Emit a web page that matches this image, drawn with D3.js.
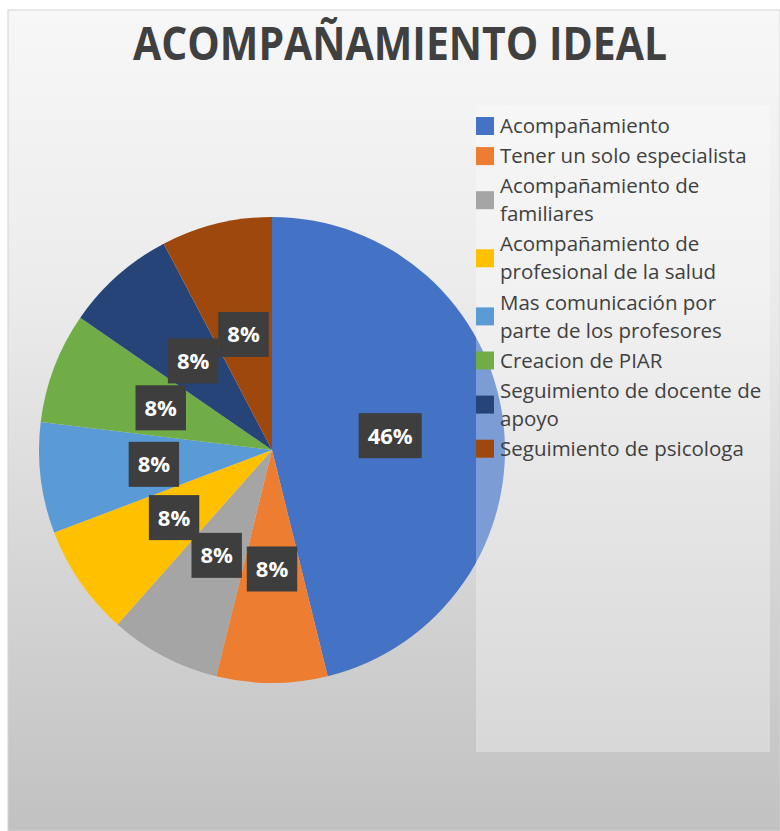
<!DOCTYPE html>
<html>
<head>
    <meta charset="utf-8">
    <title>Acompañamiento ideal</title>
    <style>
        body { margin: 0; background: #ffffff; }
        text { font-family: "Open Sans", "Noto Sans", sans-serif; }
    </style>
    <script src="https://d3js.org/d3.v7.min.js"></script>
</head>
<body>
    <script>
        // datos del grafico
        const categorias = [
            "Acompañamiento",
            "Tener un solo especialista",
            "Acompañamiento de familiares",
            "Acompañamiento de profesional de la salud",
            "Mas comunicación por parte de los profesores",
            "Creacion de PIAR",
            "Seguimiento de docente de apoyo",
            "Seguimiento de psicologa"
        ];
        // lineas de la leyenda tal como se ven cortadas
        const lineasLeyenda = [
            ["Acompañamiento"],
            ["Tener un solo especialista"],
            ["Acompañamiento de", "familiares"],
            ["Acompañamiento de", "profesional de la salud"],
            ["Mas comunicación por", "parte de los profesores"],
            ["Creacion de PIAR"],
            ["Seguimiento de docente de", "apoyo"],
            ["Seguimiento de psicologa"]
        ];
        const respuestas = [6, 1, 1, 1, 1, 1, 1, 1];
        const colores = ["#4472C4", "#ED7D31", "#A5A5A5", "#FFC000",
                         "#5B9BD5", "#70AD47", "#264478", "#9E480E"];
        const titulo = "ACOMPAÑAMIENTO IDEAL";

        const width = 780;
        const height = 831;
        const cx = 272, cy = 450, R = 233;

        const svg = d3.select("body")
            .append("svg")
            .attr("width", width)
            .attr("height", height);

        const defs = svg.append("defs");
        const grad = defs.append("linearGradient")
            .attr("id", "fondo")
            .attr("x1", 0).attr("y1", 0).attr("x2", 0).attr("y2", 1);
        grad.append("stop").attr("offset", "0%").attr("stop-color", "#f7f7f7");
        grad.append("stop").attr("offset", "35%").attr("stop-color", "#ebebeb");
        grad.append("stop").attr("offset", "100%").attr("stop-color", "#c1c1c1");

        svg.append("rect")
            .attr("x", 8).attr("y", 10)
            .attr("width", width - 8).attr("height", height - 10)
            .attr("fill", "url(#fondo)")
            .attr("stroke", "#d4d4d4")
            .attr("stroke-width", 1);

        // titulo
        svg.append("text")
            .attr("x", 400)
            .attr("y", 60)
            .attr("text-anchor", "middle")
            .attr("textLength", 534)
            .attr("lengthAdjust", "spacingAndGlyphs")
            .style("font-size", "47px")
            .style("font-weight", "bold")
            .style("fill", "#404040")
            .text(titulo);

        // torta
        const pie = d3.pie().sort(null).value(d => d);
        const arcos = pie(respuestas);
        const arc = d3.arc().innerRadius(0).outerRadius(R);
        const arcLabel = d3.arc().innerRadius(119).outerRadius(119);

        const g = svg.append("g").attr("transform", `translate(${cx}, ${cy})`);
        g.selectAll("path")
            .data(arcos)
            .enter()
            .append("path")
            .attr("d", arc)
            .attr("fill", (d, i) => colores[i]);

        // etiquetas de porcentaje
        const total = d3.sum(respuestas);
        const etiquetas = g.selectAll(".etq")
            .data(arcos)
            .enter()
            .append("g")
            .attr("class", "etq")
            .attr("transform", d => `translate(${arcLabel.centroid(d)})`);

        etiquetas.each(function (d) {
            const e = d3.select(this);
            const t = e.append("text")
                .attr("text-anchor", "middle")
                .attr("dy", "0.36em")
                .style("font-size", "22px")
                .style("font-weight", "bold")
                .style("fill", "#ffffff")
                .text(Math.round(d.value / total * 100) + "%");
            const w = t.node().getComputedTextLength() + 18;
            e.insert("rect", "text")
                .attr("x", -w / 2)
                .attr("y", -22.5)
                .attr("width", w)
                .attr("height", 45)
                .attr("fill", "#3e3e3e");
        });

        // caja de la leyenda (semi transparente, encima de la torta)
        svg.append("rect")
            .attr("x", 476).attr("y", 105)
            .attr("width", 294).attr("height", 647)
            .attr("fill", "#ffffff")
            .attr("fill-opacity", 0.3);

        const lineH = 28, gap = 2.1;
        let y = 126;
        const leyenda = svg.append("g");
        lineasLeyenda.forEach((lineas, i) => {
            const y0 = y;
            lineas.forEach((l, k) => {
                leyenda.append("text")
                    .attr("x", 500)
                    .attr("y", y0 + k * lineH)
                    .attr("dy", "0.35em")
                    .style("font-size", "20.5px")
                    .style("fill", "#404040")
                    .text(l);
            });
            const centro = y0 + (lineas.length - 1) * lineH / 2;
            leyenda.append("rect")
                .attr("x", 476)
                .attr("y", centro - 9)
                .attr("width", 18)
                .attr("height", 18)
                .attr("fill", colores[i]);
            y = y0 + lineas.length * lineH + gap;
        });
    </script>
</body>
</html>
